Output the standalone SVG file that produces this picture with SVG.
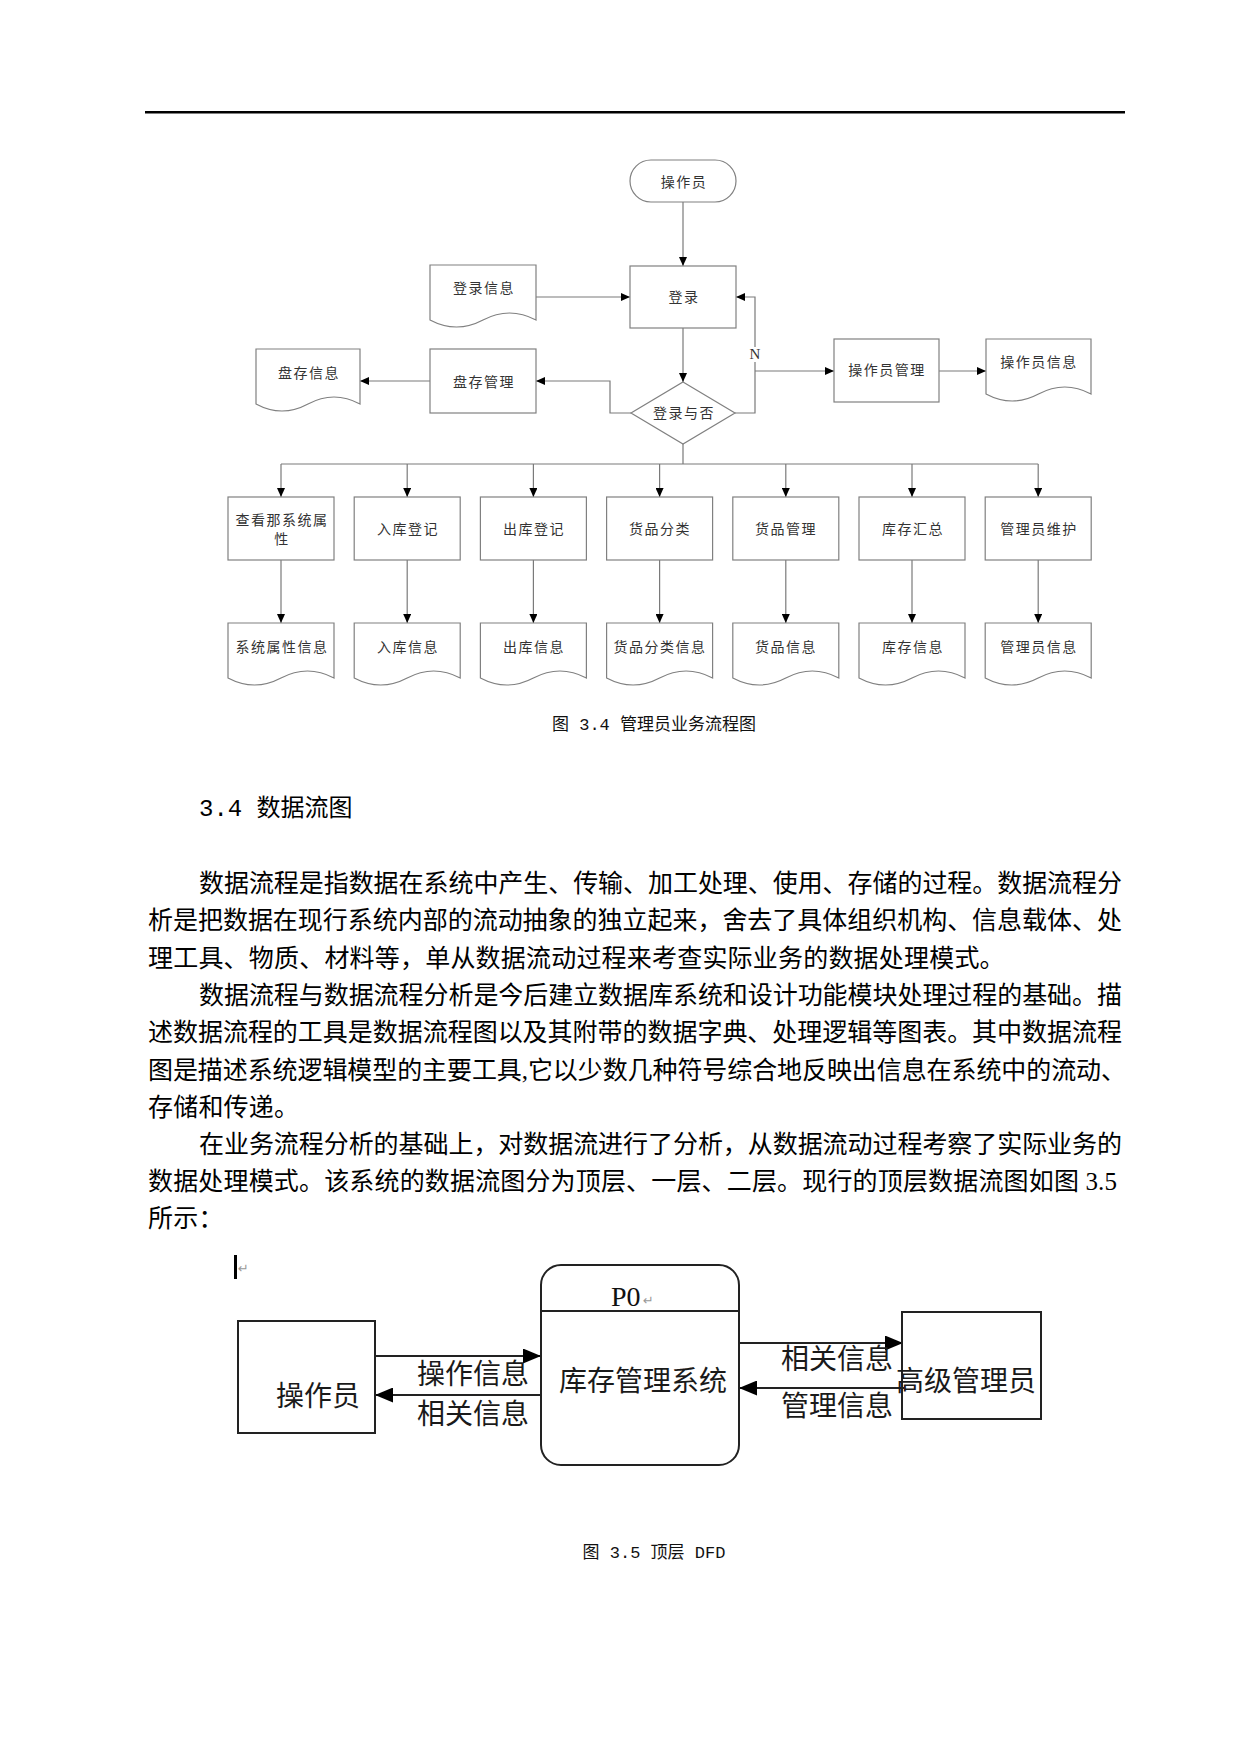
<svg xmlns="http://www.w3.org/2000/svg" width="1241" height="1754" viewBox="0 0 1241 1754">
<style>
.fc{fill:#fff;stroke:#808080;stroke-width:1.2}
.ln{fill:none;stroke:#7a7a7a;stroke-width:1.2}
.ft{font-family:"Noto Sans CJK SC",sans-serif;font-size:14px;fill:#333;text-anchor:middle;letter-spacing:1.5px}
.dfd{fill:#fff;stroke:#222;stroke-width:2}
.dl{fill:none;stroke:#222;stroke-width:2}
.dt{font-family:"Noto Sans CJK SC",sans-serif;font-size:28px;fill:#1a1a1a;text-anchor:middle}
.cap{font-family:"Liberation Mono","Noto Sans CJK SC",monospace;font-size:17px;fill:#111}
.para{font-family:"Liberation Serif","Noto Sans CJK SC",serif;font-size:25px;fill:#000}
.mark{font-family:"DejaVu Sans",sans-serif;font-size:13px;fill:#999}
</style>
<defs>
<marker id="a" markerUnits="userSpaceOnUse" markerWidth="9" markerHeight="8" refX="9" refY="4" orient="auto"><path d="M0,0 L9,4 L0,8 z" fill="#000"/></marker>
<marker id="b" markerUnits="userSpaceOnUse" markerWidth="18" markerHeight="15" refX="18" refY="7.5" orient="auto"><path d="M0,0 L18,7.5 L0,15 z" fill="#000"/></marker>
</defs>
<rect width="1241" height="1754" fill="#fff"/>
<rect x="145" y="111" width="980" height="2.5" fill="#000"/>

<!-- Flowchart connectors -->
<g id="fc-connectors">
<path class="ln" d="M683 202 V266" marker-end="url(#a)"/>
<path class="ln" d="M536 297 H630" marker-end="url(#a)"/>
<path class="ln" d="M683 328 V382" marker-end="url(#a)"/>
<path class="ln" d="M631 413 H610 V381 H536" marker-end="url(#a)"/>
<path class="ln" d="M430 381 H360" marker-end="url(#a)"/>
<path class="ln" d="M735 413 H755 V362 M755 347 V297 H736" marker-end="url(#a)"/>
<path class="ln" d="M755 371 H834" marker-end="url(#a)"/>
<path class="ln" d="M939 371 H986" marker-end="url(#a)"/>
<path class="ln" d="M683 444 V464 M281 464 H1038.2"/>
<path class="ln" d="M281 464 V497" marker-end="url(#a)"/>
<path class="ln" d="M407.2 464 V497" marker-end="url(#a)"/>
<path class="ln" d="M533.4 464 V497" marker-end="url(#a)"/>
<path class="ln" d="M659.6 464 V497" marker-end="url(#a)"/>
<path class="ln" d="M785.8 464 V497" marker-end="url(#a)"/>
<path class="ln" d="M912 464 V497" marker-end="url(#a)"/>
<path class="ln" d="M1038.2 464 V497" marker-end="url(#a)"/>
<path class="ln" d="M281 560 V623" marker-end="url(#a)"/>
<path class="ln" d="M407.2 560 V623" marker-end="url(#a)"/>
<path class="ln" d="M533.4 560 V623" marker-end="url(#a)"/>
<path class="ln" d="M659.6 560 V623" marker-end="url(#a)"/>
<path class="ln" d="M785.8 560 V623" marker-end="url(#a)"/>
<path class="ln" d="M912 560 V623" marker-end="url(#a)"/>
<path class="ln" d="M1038.2 560 V623" marker-end="url(#a)"/>
<text x="755" y="359" font-family="Liberation Serif,serif" font-size="15" fill="#333" text-anchor="middle">N</text>
</g>

<!-- Flowchart nodes -->
<g id="n-operator"><rect class="fc" x="630" y="160" width="106" height="42" rx="21"/><text class="ft" x="684" y="187">操作员</text></g>
<g id="n-login"><rect class="fc" x="630" y="266" width="106" height="62"/><text class="ft" x="684" y="302">登录</text></g>
<g id="n-logininfo"><path class="fc" d="M430 265 h106 v55 q-26.5 -14 -53 0 t-53 0 z"/><text class="ft" x="484" y="293">登录信息</text></g>
<g id="n-pcgl"><rect class="fc" x="430" y="349" width="106" height="64"/><text class="ft" x="484" y="387">盘存管理</text></g>
<g id="n-pcxx"><path class="fc" d="M256 349 h104 v55 q-26 -14 -52 0 t-52 0 z"/><text class="ft" x="309" y="378">盘存信息</text></g>
<g id="n-decision"><path class="fc" d="M683 382 L735 413 L683 444 L631 413 z"/><text class="ft" x="684" y="418">登录与否</text></g>
<g id="n-opmgr"><rect class="fc" x="834" y="339" width="105" height="63"/><text class="ft" x="887" y="375">操作员管理</text></g>
<g id="n-opinfo"><path class="fc" d="M986 339 h105 v55 q-26.25 -14 -52.5 0 t-52.5 0 z"/><text class="ft" x="1039" y="367">操作员信息</text></g>

<g id="n-b1"><rect class="fc" x="228" y="497" width="106" height="63"/><text class="ft" x="282" y="525">查看那系统属</text><text class="ft" x="282" y="544">性</text></g>
<g id="n-b2"><rect class="fc" x="354.2" y="497" width="106" height="63"/><text class="ft" x="408" y="534">入库登记</text></g>
<g id="n-b3"><rect class="fc" x="480.4" y="497" width="106" height="63"/><text class="ft" x="534" y="534">出库登记</text></g>
<g id="n-b4"><rect class="fc" x="606.6" y="497" width="106" height="63"/><text class="ft" x="660" y="534">货品分类</text></g>
<g id="n-b5"><rect class="fc" x="732.8" y="497" width="106" height="63"/><text class="ft" x="786" y="534">货品管理</text></g>
<g id="n-b6"><rect class="fc" x="859" y="497" width="106" height="63"/><text class="ft" x="913" y="534">库存汇总</text></g>
<g id="n-b7"><rect class="fc" x="985.2" y="497" width="106" height="63"/><text class="ft" x="1039" y="534">管理员维护</text></g>

<g id="n-d1"><path class="fc" d="M228 623 h106 v55 q-26.5 -14 -53 0 t-53 0 z"/><text class="ft" x="282" y="652">系统属性信息</text></g>
<g id="n-d2"><path class="fc" d="M354.2 623 h106 v55 q-26.5 -14 -53 0 t-53 0 z"/><text class="ft" x="408" y="652">入库信息</text></g>
<g id="n-d3"><path class="fc" d="M480.4 623 h106 v55 q-26.5 -14 -53 0 t-53 0 z"/><text class="ft" x="534" y="652">出库信息</text></g>
<g id="n-d4"><path class="fc" d="M606.6 623 h106 v55 q-26.5 -14 -53 0 t-53 0 z"/><text class="ft" x="660" y="652">货品分类信息</text></g>
<g id="n-d5"><path class="fc" d="M732.8 623 h106 v55 q-26.5 -14 -53 0 t-53 0 z"/><text class="ft" x="786" y="652">货品信息</text></g>
<g id="n-d6"><path class="fc" d="M859 623 h106 v55 q-26.5 -14 -53 0 t-53 0 z"/><text class="ft" x="913" y="652">库存信息</text></g>
<g id="n-d7"><path class="fc" d="M985.2 623 h106 v55 q-26.5 -14 -53 0 t-53 0 z"/><text class="ft" x="1039" y="652">管理员信息</text></g>

<text class="cap" x="654" y="730" text-anchor="middle">图 3.4 管理员业务流程图</text>

<text x="199" y="816" font-size="24" fill="#000" font-family="Liberation Mono,Noto Sans CJK SC,monospace">3.4 <tspan font-family="Noto Sans CJK SC,sans-serif">数据流图</tspan></text>

<g id="paragraphs" class="para">
<text x="199" y="892" textLength="923" lengthAdjust="spacing">数据流程是指数据在系统中产生、传输、加工处理、使用、存储的过程。数据流程分</text>
<text x="148" y="929" textLength="974" lengthAdjust="spacing">析是把数据在现行系统内部的流动抽象的独立起来，舍去了具体组织机构、信息载体、处</text>
<text x="148" y="967" letter-spacing="0.2">理工具、物质、材料等，单从数据流动过程来考查实际业务的数据处理模式。</text>
<text x="199" y="1004" textLength="923" lengthAdjust="spacing">数据流程与数据流程分析是今后建立数据库系统和设计功能模块处理过程的基础。描</text>
<text x="148" y="1041" textLength="974" lengthAdjust="spacing">述数据流程的工具是数据流程图以及其附带的数据字典、处理逻辑等图表。其中数据流程</text>
<text x="148" y="1079" textLength="978" lengthAdjust="spacing">图是描述系统逻辑模型的主要工具,它以少数几种符号综合地反映出信息在系统中的流动、</text>
<text x="148" y="1116" letter-spacing="0.2">存储和传递。</text>
<text x="199" y="1153" textLength="923" lengthAdjust="spacing">在业务流程分析的基础上，对数据流进行了分析，从数据流动过程考察了实际业务的</text>
<text x="148" y="1190" textLength="969" lengthAdjust="spacing">数据处理模式。该系统的数据流图分为顶层、一层、二层。现行的顶层数据流图如图 3.5</text>
<text x="148" y="1227" letter-spacing="0.2">所示：</text>
</g>

<!-- DFD -->
<rect x="234" y="1255" width="3" height="24" fill="#000"/>
<text class="mark" x="238" y="1273">↵</text>

<g id="dfd-connectors">
<path class="dl" d="M375 1356 H541" marker-end="url(#b)"/>
<path class="dl" d="M541 1395 H375" marker-end="url(#b)"/>
<path class="dl" d="M739 1343 H903" marker-end="url(#b)"/>
<path class="dl" d="M904 1388 H739" marker-end="url(#b)"/>
<text class="dt" x="473" y="1384">操作信息</text>
<text class="dt" x="473" y="1424">相关信息</text>
<text class="dt" x="837" y="1369">相关信息</text>
<text class="dt" x="837" y="1416">管理信息</text>
</g>
<g id="dfd-operator"><rect class="dfd" x="238" y="1321" width="137" height="112"/><text class="dt" x="318" y="1406">操作员</text></g>
<g id="dfd-p0"><rect class="dfd" x="541" y="1265" width="198" height="200" rx="20"/><line class="dl" x1="541" y1="1311" x2="739" y2="1311"/><text x="611" y="1306" font-family="Liberation Serif,serif" font-size="28" fill="#111">P0</text><text class="mark" x="643" y="1305">↵</text><text class="dt" x="643" y="1391">库存管理系统</text></g>
<g id="dfd-admin"><rect class="dfd" x="902" y="1312" width="139" height="107" style="fill:none"/><text class="dt" x="966" y="1391" font-size="27.5">高级管理员</text></g>

<text class="cap" x="654" y="1558" text-anchor="middle">图 3.5 顶层 DFD</text>
</svg>
